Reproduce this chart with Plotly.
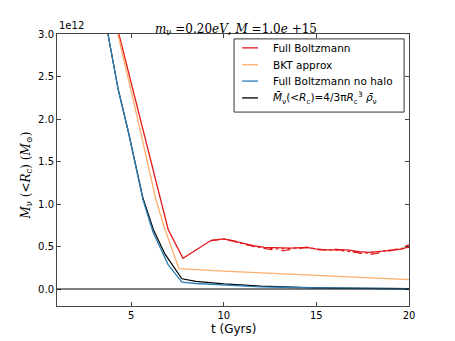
import plotly.graph_objects as go

# neutrino mass inside R_c, in units of 1e12 M_sun, vs time (Gyrs)
t_full = [3.9, 4.34, 5.0, 5.64, 6.3, 7.0, 7.8, 9.3, 10.0, 10.9, 11.6, 12.2, 13.0, 13.6,
          14.5, 15.0, 15.6, 16.2, 16.7, 17.3, 17.8, 18.3, 18.8, 19.3, 19.6, 20.0]
m_full = [3.38, 3.0, 2.42, 1.87, 1.30, 0.70, 0.36, 0.57, 0.59, 0.54, 0.51, 0.49, 0.48, 0.48,
          0.49, 0.47, 0.46, 0.46, 0.46, 0.44, 0.43, 0.44, 0.45, 0.46, 0.47, 0.50]

t_full_b = [9.3, 10.0, 10.9, 11.6, 12.4, 13.2, 13.8, 14.5, 15.2, 16.0, 16.8, 17.4, 18.0, 18.6, 19.2, 19.7, 20.0]
m_full_b = [0.57, 0.59, 0.55, 0.50, 0.47, 0.45, 0.47, 0.49, 0.46, 0.47, 0.45, 0.42, 0.41, 0.43, 0.46, 0.50, 0.52]
t_full_c = [9.3, 10.0, 10.9, 11.6, 12.3, 13.0, 13.8, 14.5, 15.3, 16.0, 16.8, 17.5, 18.2, 18.8, 19.4, 20.0]
m_full_c = [0.57, 0.59, 0.54, 0.50, 0.48, 0.47, 0.48, 0.49, 0.46, 0.46, 0.44, 0.42, 0.43, 0.45, 0.47, 0.49]

t_bkt = [3.8, 4.29, 5.3, 6.34, 6.83, 7.58, 10.0, 15.0, 20.0]
m_bkt = [3.45, 3.0, 2.05, 1.05, 0.70, 0.24, 0.21, 0.16, 0.11]

t_nohalo = [3.4, 3.75, 4.3, 4.85, 5.64, 6.18, 6.99, 7.74, 8.5, 10.0, 12.0, 15.0, 18.0, 20.0]
m_nohalo = [3.5, 3.0, 2.35, 1.85, 1.05, 0.67, 0.29, 0.08, 0.065, 0.045, 0.025, 0.012, 0.005, 0.003]

t_bar = [3.4, 3.75, 4.3, 4.85, 5.64, 6.2, 6.83, 7.74, 8.5, 10.0, 12.0, 15.0, 18.0, 20.0]
m_bar = [3.5, 3.0, 2.35, 1.85, 1.07, 0.70, 0.41, 0.12, 0.09, 0.06, 0.035, 0.015, 0.007, 0.004]

RED = "#e3191c"
ORANGE = "#fdae6b"
BLUE = "#2c7fb8"

legend_labels = [
    "Full Boltzmann",
    "BKT approx",
    "Full Boltzmann no halo",
    "<i>M̄</i><sub>ν</sub>(&lt;<i>R</i><sub>c</sub>)=4/3π<i>R</i><sub>c</sub><sup>3</sup> <i>ρ̄</i><sub>ν</sub>",
]
legend_colors = [RED, ORANGE, BLUE, "black"]

fig = go.Figure()
fig.add_trace(go.Scatter(x=t_full_b, y=m_full_b, mode="lines",
                         line=dict(color=RED, width=1.2, dash="dash")))
fig.add_trace(go.Scatter(x=t_full_c, y=m_full_c, mode="lines",
                         line=dict(color=RED, width=1.2, dash="dot")))
fig.add_trace(go.Scatter(x=t_full, y=m_full, mode="lines", name=legend_labels[0],
                         line=dict(color=RED, width=1.3)))
fig.add_trace(go.Scatter(x=t_bkt, y=m_bkt, mode="lines", name=legend_labels[1],
                         line=dict(color=ORANGE, width=1.3)))
fig.add_trace(go.Scatter(x=t_bar, y=m_bar, mode="lines", name=legend_labels[3],
                         line=dict(color="black", width=1.2)))
fig.add_trace(go.Scatter(x=t_nohalo, y=m_nohalo, mode="lines", name=legend_labels[2],
                         line=dict(color=BLUE, width=1.3)))
fig.add_hline(y=0, line_color="black", line_width=1)

# hand-made legend box (matplotlib style, tighter rows than plotly's legend)
fig.add_shape(type="rect", xref="paper", yref="paper", x0=0.503, x1=0.986, y0=0.713, y1=0.982,
              line=dict(color="#333", width=1), fillcolor="white", layer="above")
rows_y = [0.949, 0.887, 0.827, 0.765]
annotations = []
for lab, col, yy in zip(legend_labels, legend_colors, rows_y):
    fig.add_shape(type="line", xref="paper", yref="paper", x0=0.526, x1=0.571, y0=yy, y1=yy,
                  line=dict(color=col, width=1.3), layer="above")
    annotations.append(dict(text=lab, xref="paper", yref="paper", x=0.607, y=yy,
                            xanchor="left", yanchor="middle", showarrow=False,
                            font=dict(size=10.5)))

axis = dict(showline=True, linecolor="#444", linewidth=1, mirror="ticks", ticks="inside",
            ticklen=4, tickcolor="#444", showgrid=False, zeroline=False, automargin=False,
            tickfont=dict(size=10, color="black"))

# the page body adds an 8px offset, so the figure is 8px smaller on each side
fig.update_layout(
    width=447, height=333,
    margin=dict(l=49, r=46, t=26, b=35, autoexpand=False),
    paper_bgcolor="white", plot_bgcolor="white",
    font=dict(family="DejaVu Sans", color="black"),
    showlegend=False,
    title=dict(text="<i>m</i><sub>ν</sub> =0.20<i>eV</i>, <i>M</i> =1.0<i>e</i> +15",
               x=0.51, xanchor="center", y=0.925, yanchor="bottom",
               font=dict(family="DejaVu Serif", size=12)),
    xaxis=dict(axis, range=[1, 20], tickvals=[5, 10, 15, 20]),
    yaxis=dict(axis, range=[-0.2, 3.0], tickvals=[0, 0.5, 1.0, 1.5, 2.0, 2.5, 3.0],
               tickformat=".1f"),
    annotations=annotations + [
        dict(text="1e12", xref="paper", yref="paper", x=0, y=1,
             xanchor="left", yanchor="bottom", showarrow=False,
             font=dict(size=10), yshift=1),
        dict(text="t (Gyrs)", xref="paper", yref="paper", x=0.5, y=0,
             xanchor="center", yanchor="top", showarrow=False,
             font=dict(size=12), yshift=-14),
        dict(text="<i>M</i><sub>ν</sub> (&lt;<i>R</i><sub>c</sub>) (<i>M</i><sub>⊙</sub>)",
             xref="paper", yref="paper", x=0, y=0.48, textangle=-90,
             xanchor="right", yanchor="middle", showarrow=False,
             font=dict(family="DejaVu Serif", size=12), xshift=-20),
    ],
)

fig.write_html("out.html")
